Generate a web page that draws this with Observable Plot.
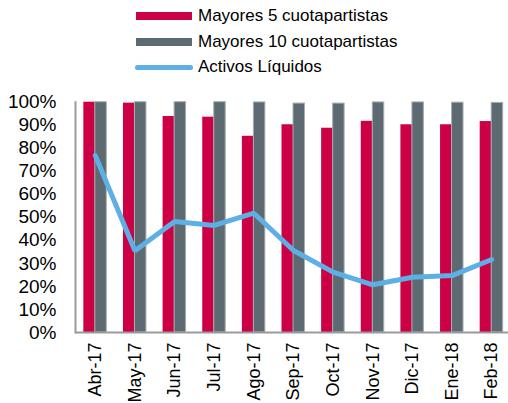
<!DOCTYPE html>
<html>
<head>
<meta charset="utf-8">
<script src="https://cdn.jsdelivr.net/npm/d3@7"></script>
<script src="https://cdn.jsdelivr.net/npm/@observablehq/plot@0.6"></script>
<style>
  html, body { margin: 0; padding: 0; background: #fff; }
  body { width: 508px; height: 403px; overflow: hidden; font-family: "Liberation Sans", Arial, sans-serif; }
  #legend { position: relative; height: 88px; }
  .item { position: absolute; left: 0; height: 20px; }
  .sw { position: absolute; }
  .lab { position: absolute; left: 198px; font-size: 17px; color: #000; line-height: 20px; white-space: nowrap; }
</style>
</head>
<body>
<div id="legend"></div>
<div id="chart"></div>
<script>
const months = ["Abr-17","May-17","Jun-17","Jul-17","Ago-17","Sep-17","Oct-17","Nov-17","Dic-17","Ene-18","Feb-18"];
const mayores5 = [1.00, 0.996, 0.938, 0.935, 0.852, 0.902, 0.887, 0.917, 0.902, 0.902, 0.916];
const mayores10 = [1.00, 1.00, 1.00, 1.00, 0.999, 0.994, 0.994, 0.999, 0.999, 0.998, 0.997];
const activos = [0.768, 0.355, 0.482, 0.465, 0.518, 0.356, 0.262, 0.207, 0.240, 0.247, 0.317];
const yTicks = [0, 0.1, 0.2, 0.3, 0.4, 0.5, 0.6, 0.7, 0.8, 0.9, 1.0];
const seriesNames = ["Mayores 5 cuotapartistas", "Mayores 10 cuotapartistas", "Activos Líquidos"];
const colors = ["#CC0044", "#5E6A71", "#5EAFE4"];

const data = months.map((m, i) => ({month: m, m5: mayores5[i], m10: mayores10[i], liq: activos[i]}));

// Legend
const legend = document.getElementById("legend");
const rowsY = [15.7, 41.5, 67];
seriesNames.forEach((name, i) => {
  const item = document.createElement("div");
  item.className = "item";
  item.style.top = (rowsY[i] - 10) + "px";
  const sw = document.createElement("div");
  sw.className = "sw";
  if (i < 2) {
    sw.style.left = "136px"; sw.style.width = "56px"; sw.style.top = "6px"; sw.style.height = "8px";
    sw.style.background = colors[i];
  } else {
    sw.style.left = "135px"; sw.style.width = "58px"; sw.style.top = "7.5px"; sw.style.height = "5px";
    sw.style.background = colors[i]; sw.style.borderRadius = "3px";
  }
  const lab = document.createElement("div");
  lab.className = "lab";
  lab.textContent = name;
  item.appendChild(sw); item.appendChild(lab);
  legend.appendChild(item);
});

const H = 315;
const top0 = 101.7 - 88;
const bottom0 = 332 - 88;

const chart = Plot.plot({
  width: 508,
  height: H,
  marginTop: top0,
  marginBottom: H - bottom0,
  marginLeft: 75,
  marginRight: 0,
  style: {fontFamily: '"Liberation Sans", Arial, sans-serif', fontSize: "18px", color: "#000", background: "#fff"},
  x: {domain: months, range: [75, 511], paddingInner: 0.42, paddingOuter: 0.21, round: false},
  y: {domain: [0, 1]},
  marks: [
    Plot.barY(data, {x: "month", y: "m5", fill: colors[0], insetRight: 11.5}),
    Plot.barY(data, {x: "month", y: "m10", fill: colors[1], stroke: "#A7AEB2", strokeWidth: 1, insetLeft: 11.5}),
    Plot.line(data, {x: "month", y: "liq", stroke: colors[2], strokeWidth: 5, strokeLinejoin: "miter"}),
    Plot.ruleY([0], {stroke: "#9a9a9a", strokeWidth: 2}),
    Plot.frame({anchor: "left", stroke: "#9a9a9a", strokeWidth: 2}),
    Plot.axisY({ticks: yTicks, tickFormat: d3.format(".0%"), tickSize: 0, tickPadding: 19, label: null, fill: "#000", fontSize: 19}),
    Plot.axisX({tickRotate: -90, tickSize: 0, tickPadding: 10, label: null, fill: "#000"})
  ]
});
document.getElementById("chart").appendChild(chart);
</script>
</body>
</html>
